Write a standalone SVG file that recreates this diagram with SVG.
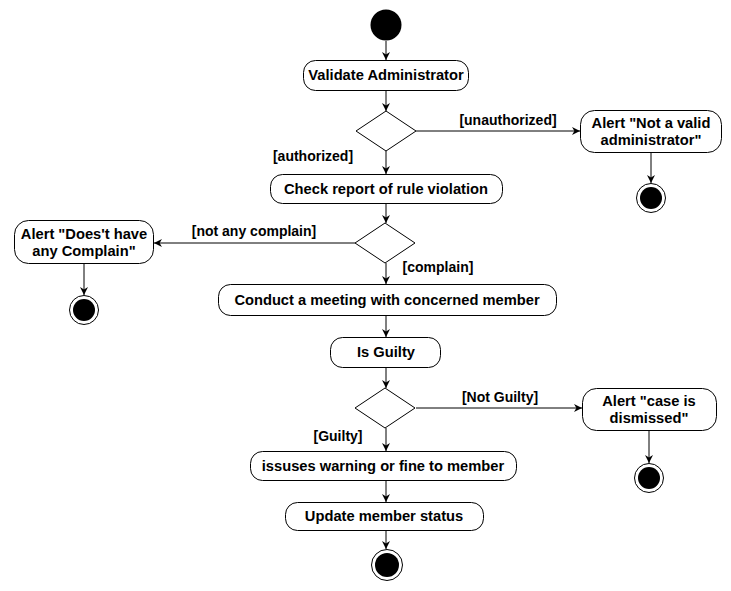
<svg xmlns="http://www.w3.org/2000/svg" width="731" height="591" viewBox="0 0 731 591">
<style>
.box{fill:#fff;stroke:#000;stroke-width:1}
.dia{fill:#fff;stroke:#000;stroke-width:1}
.t{font-family:"Liberation Sans",Arial,sans-serif;font-weight:bold;font-size:14.7px;fill:#000;text-anchor:middle}
.lbl{font-family:"Liberation Sans",Arial,sans-serif;font-weight:bold;font-size:14px;fill:#000;text-anchor:middle}
.e{fill:none;stroke:#000;stroke-width:1;marker-end:url(#ah)}
</style>
<defs>
<marker id="ah" viewBox="0 0 10 10" refX="10" refY="5" markerWidth="8" markerHeight="8" markerUnits="userSpaceOnUse" orient="auto">
<path d="M0,0 L10,5 L0,10 L3,5 Z" fill="#000"/>
</marker>
</defs>
<rect width="731" height="591" fill="#fff"/>
<g id="connectors">
<line class="e" x1="386" y1="41" x2="386" y2="60"/>
<line class="e" x1="386" y1="90" x2="386" y2="111"/>
<line class="e" x1="416" y1="131" x2="580" y2="131"/>
<line class="e" x1="651" y1="152" x2="651" y2="183"/>
<line class="e" x1="386" y1="151" x2="386" y2="174"/>
<line class="e" x1="386" y1="203" x2="386" y2="223"/>
<line class="e" x1="355" y1="243" x2="154" y2="243"/>
<line class="e" x1="84" y1="263" x2="84" y2="295"/>
<line class="e" x1="386" y1="263" x2="386" y2="284"/>
<line class="e" x1="386" y1="315" x2="386" y2="337"/>
<line class="e" x1="386" y1="367" x2="386" y2="388"/>
<line class="e" x1="416" y1="408" x2="582" y2="408"/>
<line class="e" x1="649" y1="430" x2="649" y2="463"/>
<line class="e" x1="386" y1="428" x2="386" y2="451"/>
<line class="e" x1="386" y1="480" x2="386" y2="502"/>
<line class="e" x1="386" y1="530" x2="386" y2="549"/>
<text class="lbl" x="508" y="125">[unauthorized]</text>
<text class="lbl" x="313" y="161">[authorized]</text>
<text class="lbl" x="254" y="236">[not any complain]</text>
<text class="lbl" x="438" y="272">[complain]</text>
<text class="lbl" x="500" y="402">[Not Guilty]</text>
<text class="lbl" x="338" y="441">[Guilty]</text>
</g>
<g id="start"><circle cx="386" cy="25" r="15.5" fill="#000"/></g>
<g id="validate"><rect class="box" x="303.5" y="60.5" width="165" height="30" rx="12"/><text class="t" x="386" y="80">Validate Administrator</text></g>
<g id="d1"><polygon class="dia" points="386,111 416,131 386,151 356,131"/></g>
<g id="alert1"><rect class="box" x="580.5" y="110.5" width="141" height="42" rx="14"/><text class="t" x="651" y="128">Alert "Not a valid</text><text class="t" x="651" y="145">administrator"</text></g>
<g id="end1"><circle cx="651" cy="198" r="14.5" fill="#fff" stroke="#000"/><circle cx="651" cy="198" r="11" fill="#000"/></g>
<g id="check"><rect class="box" x="270.5" y="174.5" width="232" height="29" rx="12"/><text class="t" x="386" y="194">Check report of rule violation</text></g>
<g id="d2"><polygon class="dia" points="385,223 415,243 385,263 355,243"/></g>
<g id="alert2"><rect class="box" x="14.5" y="220.5" width="139" height="43" rx="14"/><text class="t" x="84" y="239">Alert "Does't have</text><text class="t" x="84" y="256">any Complain"</text></g>
<g id="end2"><circle cx="84" cy="310" r="14.5" fill="#fff" stroke="#000"/><circle cx="84" cy="310" r="11" fill="#000"/></g>
<g id="conduct"><rect class="box" x="218.5" y="284.5" width="338" height="31" rx="12"/><text class="t" x="387" y="305">Conduct a meeting with concerned member</text></g>
<g id="guilty"><rect class="box" x="330.5" y="337.5" width="110" height="30" rx="12"/><text class="t" x="386" y="357">Is Guilty</text></g>
<g id="d3"><polygon class="dia" points="385,388 415,408 385,428 355,408"/></g>
<g id="alert3"><rect class="box" x="582.5" y="388.5" width="134" height="42" rx="14"/><text class="t" x="649" y="406">Alert "case is</text><text class="t" x="649" y="423">dismissed"</text></g>
<g id="end3"><circle cx="649" cy="478" r="14.5" fill="#fff" stroke="#000"/><circle cx="649" cy="478" r="11" fill="#000"/></g>
<g id="issue"><rect class="box" x="250.5" y="451.5" width="266" height="29" rx="12"/><text class="t" x="383" y="471">issuses warning or fine to member</text></g>
<g id="update"><rect class="box" x="285.5" y="502.5" width="198" height="28" rx="12"/><text class="t" x="384" y="521">Update member status</text></g>
<g id="end4"><circle cx="387" cy="565" r="15.5" fill="#fff" stroke="#000"/><circle cx="387" cy="565" r="12" fill="#000"/></g>
</svg>
